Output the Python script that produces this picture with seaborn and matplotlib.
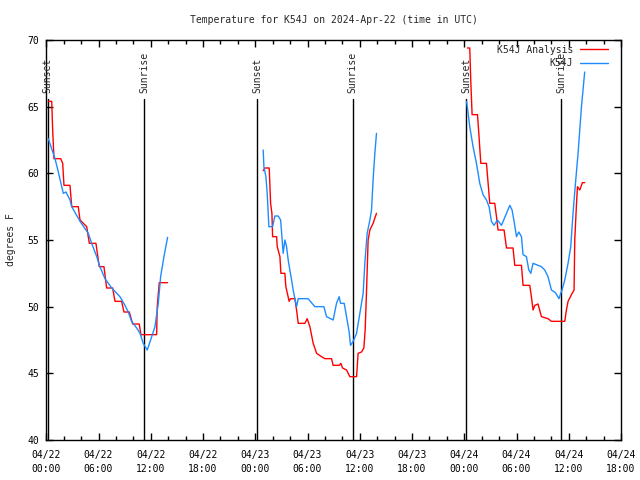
import pandas as pd
import numpy as np
import matplotlib
matplotlib.use('Agg')
import matplotlib.pyplot as plt
import matplotlib.dates as mdates
from matplotlib.lines import Line2D
import seaborn as sns

start = pd.Timestamp('2024-04-22 00:00')

# hours after 04/22 00:00 UTC, temperatures in degrees F
analysis_h1 = [0.23, 0.62, 0.73, 0.88, 1.65, 1.88, 2.03, 2.72, 2.92, 3.67, 3.87, 4.64, 4.94, 5.70,
               6.08, 6.62, 6.93, 7.62, 7.89, 8.65, 8.92, 9.53, 9.92, 10.67, 10.87, 12.67, 12.74,
               12.97, 13.93]
analysis_t1 = [65.4, 65.4, 63.3, 61.1, 61.1, 60.75, 59.1, 59.1, 57.5, 57.5, 56.5, 56.0, 54.75, 54.75,
               53.0, 53.0, 51.4, 51.4, 50.4, 50.4, 49.6, 49.6, 48.7, 48.7, 47.9, 47.9, 50.0,
               51.8, 51.8]
analysis_h2 = [24.91, 25.10, 25.60, 25.76, 25.91, 25.99, 26.45, 26.52, 26.83, 26.94, 27.40, 27.51,
               27.89, 28.05, 28.55, 28.74, 28.93, 29.70, 29.96, 30.27, 30.65, 31.04, 31.61, 31.99,
               32.76, 32.94, 33.63, 33.83, 34.02, 34.48, 34.86, 35.63, 35.81, 36.20, 36.47, 36.62,
               36.78, 36.96, 37.16, 37.53, 37.92]
analysis_t2 = [60.2, 60.4, 60.4, 57.75, 57.0, 55.25, 55.25, 54.5, 53.75, 52.5, 52.5, 51.5,
               50.4, 50.6, 50.6, 49.75, 48.75, 48.75, 49.1, 48.5, 47.25, 46.5, 46.25, 46.1,
               46.1, 45.6, 45.6, 45.75, 45.4, 45.25, 44.75, 44.75, 46.5, 46.6, 46.9, 48.25,
               51.25, 55.0, 55.75, 56.25, 57.0]
analysis_h3 = [48.37, 48.63, 48.75, 48.90, 49.52, 49.67, 49.90, 50.55, 50.74, 50.93, 51.50, 51.70,
               51.88, 52.57, 52.85, 53.60, 53.80, 54.57, 54.75, 55.52, 55.71, 55.90, 56.10, 56.47,
               56.86, 57.62, 58.01, 59.54, 59.73, 59.92, 60.31, 60.61, 60.69, 60.88, 61.00, 61.27,
               61.57, 61.83]
analysis_t3 = [69.4, 69.4, 66.9, 64.4, 64.4, 63.0, 60.75, 60.75, 59.25, 57.75, 57.75, 56.75,
               55.75, 55.75, 54.4, 54.4, 53.1, 53.1, 51.6, 51.6, 50.75, 49.75, 50.1, 50.2,
               49.25, 49.1, 48.9, 48.9, 49.75, 50.4, 50.9, 51.25, 55.0, 57.6, 59.0, 58.75,
               59.3, 59.3]

obs_h1 = [0.23, 1.00, 1.38, 1.95, 2.26, 2.72, 2.92, 3.87, 4.82, 5.21, 5.79, 6.16, 6.74, 7.51,
          8.46, 9.03, 9.41, 9.80, 10.38, 10.76, 11.13, 11.59, 11.98, 12.48, 12.86, 13.13,
          13.51, 13.93]
obs_t1 = [62.6, 61.1, 60.1, 58.5, 58.6, 58.0, 57.5, 56.4, 55.5, 54.75, 53.75, 53.0, 52.1, 51.4,
          50.75, 50.1, 49.6, 48.9, 48.4, 48.0, 47.25, 46.75, 47.5, 48.5, 50.25, 52.25,
          53.75, 55.2]
obs_h2 = [24.91, 24.99, 25.22, 25.37, 25.56, 25.99, 26.25, 26.63, 26.91, 27.09, 27.20, 27.40,
          27.59, 27.78, 27.97, 28.17, 28.35, 28.55, 28.74, 28.93, 29.43, 30.07, 30.84, 31.88,
          32.18, 32.94, 33.33, 33.63, 33.79, 34.21, 34.48, 34.78, 34.94, 35.24, 35.63, 36.01,
          36.39, 36.58, 36.85, 37.16, 37.35, 37.53, 37.73, 37.92]
obs_t2 = [61.75, 60.5, 59.75, 58.5, 56.0, 56.0, 56.8, 56.8, 56.5, 55.0, 54.0, 55.0,
          54.5, 53.5, 52.75, 52.0, 51.25, 50.6, 50.0, 50.6, 50.6, 50.6, 50.0, 50.0,
          49.25, 49.0, 50.25, 50.75, 50.25, 50.25, 49.25, 48.1, 47.1, 47.4, 48.0, 49.5,
          51.0, 53.25, 55.5, 56.5, 57.25, 59.5, 61.5, 63.0]
obs_h3 = [48.26, 48.37, 48.63, 49.01, 49.40, 49.78, 50.16, 50.55, 50.85, 51.12, 51.42, 51.81,
          52.27, 52.85, 53.23, 53.49, 53.72, 54.00, 54.26, 54.57, 54.75, 55.14, 55.41, 55.64,
          55.90, 56.47, 56.86, 57.24, 57.62, 58.01, 58.47, 58.88, 59.08, 59.23, 59.54, 59.92,
          60.23, 60.49, 60.77, 61.07, 61.46, 61.83]
obs_t3 = [65.4, 64.9, 63.5, 62.0, 60.75, 59.25, 58.4, 58.0, 57.5, 56.4, 56.1, 56.5,
          56.1, 57.0, 57.6, 57.25, 56.4, 55.25, 55.6, 55.25, 53.9, 53.75, 52.75, 52.5,
          53.25, 53.1, 53.0, 52.75, 52.25, 51.25, 51.05, 50.6, 51.0, 51.25, 52.0, 53.25,
          54.5, 57.0, 59.25, 61.5, 65.0, 67.6]

sunset_h = [0.17, 24.2, 48.25]
sunrise_h = [11.22, 35.2, 59.15]


def frame(hours_list, temps_list):
    parts = []
    for i, (h, t) in enumerate(zip(hours_list, temps_list)):
        parts.append(pd.DataFrame({'time': start + pd.to_timedelta(h, unit='h'),
                                   'temp': t, 'night': i}))
    return pd.concat(parts, ignore_index=True)


analysis = frame([analysis_h1, analysis_h2, analysis_h3], [analysis_t1, analysis_t2, analysis_t3])
obs = frame([obs_h1, obs_h2, obs_h3], [obs_t1, obs_t2, obs_t3])

sns.set_style('ticks')
plt.rcParams['font.family'] = ['DejaVu Sans Mono']
plt.rcParams['font.size'] = 7

red = '#ff0000'
blue = '#1e8cff'

fig = plt.figure(figsize=(6.4, 4.8), dpi=100)
ax = fig.add_axes([46.3 / 640, 40 / 480, (621 - 46.3) / 640, 400 / 480])

for t in sunset_h + sunrise_h:
    ts = start + pd.Timedelta(hours=t)
    ax.plot([ts, ts], [40, 65.6], color='black', lw=1)
for t in sunset_h:
    ax.text(start + pd.Timedelta(hours=t), 66.05, 'Sunset', rotation=90,
            ha='center', va='bottom', fontsize=7)
for t in sunrise_h:
    ax.text(start + pd.Timedelta(hours=t), 66.05, 'Sunrise', rotation=90,
            ha='center', va='bottom', fontsize=7)

sns.lineplot(data=analysis, x='time', y='temp', units='night', estimator=None,
             sort=False, color=red, lw=1, ax=ax)
sns.lineplot(data=obs, x='time', y='temp', units='night', estimator=None,
             sort=False, color=blue, lw=1, ax=ax)

ax.set_xlim(start, start + pd.Timedelta(hours=66))
ax.set_ylim(40, 70)
ax.set_yticks([40, 45, 50, 55, 60, 65, 70])
ax.xaxis.set_major_locator(mdates.HourLocator(byhour=[0, 6, 12, 18]))
ax.xaxis.set_minor_locator(mdates.HourLocator(byhour=range(0, 24, 2)))
ax.xaxis.set_major_formatter(mdates.DateFormatter('%m/%d\n%H:%M'))
ax.tick_params(which='both', direction='in', top=True, right=True, width=1,
               labelsize=7, colors='black')
ax.tick_params(which='major', length=5)
ax.tick_params(which='minor', length=3)
ax.tick_params(axis='x', pad=7)
ax.tick_params(axis='y', pad=5)
for lab in ax.get_xticklabels():
    lab.set_linespacing(1.5)
for s in ax.spines.values():
    s.set_linewidth(1)
    s.set_color('black')

ax.set_xlabel('')
ax.set_ylabel('degrees F', fontsize=7, labelpad=8)
ax.set_title('Temperature for K54J on 2024-Apr-22 (time in UTC)', fontsize=7, pad=12.5)

handles = [Line2D([], [], color=red, lw=1), Line2D([], [], color=blue, lw=1)]
ax.legend(handles, ['K54J Analysis', 'K54J'], loc='upper right', frameon=False,
          bbox_to_anchor=(1 - 8 / 574.7, 1),
          markerfirst=False, fontsize=7, handlelength=2.9, handletextpad=0.7,
          labelspacing=0.35, borderaxespad=0.2, borderpad=0.3)

fig.savefig('out.png', dpi=100)
